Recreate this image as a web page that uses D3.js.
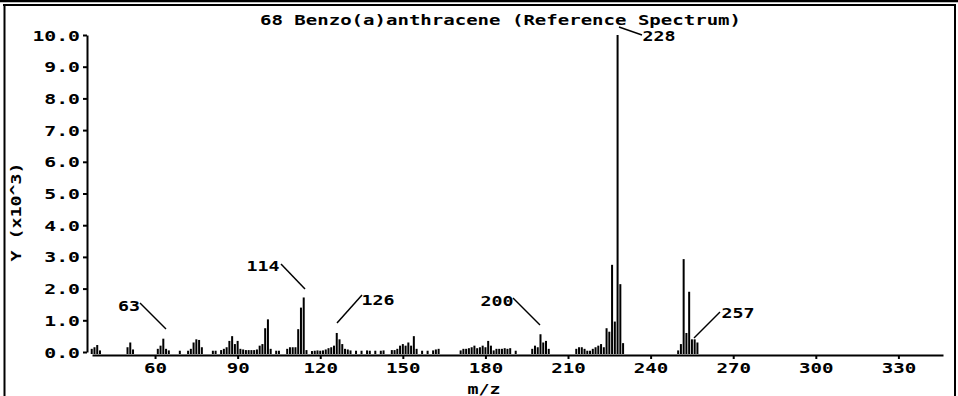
<!DOCTYPE html>
<html>
<head>
<meta charset="utf-8">
<script src="https://cdn.jsdelivr.net/npm/d3@7/dist/d3.min.js"></script>
<style>
  html, body { margin: 0; padding: 0; background: #fff; }
  svg { display: block; }
  text { font-family: "DejaVu Sans Mono", "Liberation Mono", monospace; fill: #000; font-weight: bold; }
</style>
</head>
<body>
<svg id="chart" width="958" height="396"></svg>
<script>
// ---- data ----
const title = "68 Benzo(a)anthracene (Reference Spectrum)";
const xTitle = "m/z";
const yTitle = "Y (x10^3)";
const xTicks = [60, 90, 120, 150, 180, 210, 240, 270, 300, 330];
const yTicks = [0, 1000, 2000, 3000, 4000, 5000, 6000, 7000, 8000, 9000, 10000];
const mz = [37, 38, 39, 40,
  50, 51, 52,
  61, 62, 63, 64, 65, 69,
  72, 73, 74, 75, 76, 77,
  81, 82, 84, 85, 86, 87, 88, 89, 90, 91, 92, 93, 94, 95, 96, 97,
  98, 99, 100, 101, 102, 104, 105,
  108, 109, 110, 111, 112, 113, 114, 115, 117, 118,
  119, 120, 121, 122, 123, 124, 125, 126, 127, 128, 129, 130, 131, 133, 135, 137, 138, 140, 142, 143,
  146, 147, 148, 149, 150, 151, 152, 153, 154, 155,
  157, 159, 161, 162, 163,
  171, 172, 173, 174, 175, 176, 177, 178, 179, 180, 181, 182, 183, 184, 185,
  186, 187, 188, 189, 191,
  197, 198, 199, 200, 201, 202, 203,
  213, 214, 215, 216, 217, 218, 219, 220, 221, 222, 223,
  224, 225, 226, 227, 228, 229, 230,
  250, 251, 252, 253, 254, 255, 256, 257];
const abundance = [100, 150, 220, 50,
  150, 300, 80,
  100, 200, 420, 100, 50, 40,
  40, 100, 300, 400, 380, 150,
  40, 40, 60, 100, 150, 350, 500, 250, 350, 100, 80, 60, 60, 60, 60, 80,
  200, 250, 750, 1030, 100, 40, 40,
  100, 150, 150, 150, 720, 1400, 1720, 60, 30, 40,
  50, 40, 50, 80, 120, 150, 200, 600, 400, 250, 100, 80, 50, 40, 40, 50, 40, 40, 40, 50,
  60, 60, 100, 200, 250, 200, 300, 200, 500, 100,
  40, 40, 50, 80, 100,
  50, 100, 100, 120, 150, 200, 120, 150, 200, 150, 350, 200, 50, 100, 100,
  100, 120, 100, 120, 40,
  100, 200, 150, 560, 300, 350, 100,
  100, 150, 150, 100, 40, 40, 100, 150, 200, 250, 150,
  750, 640, 2750, 960, 10000, 2140, 280,
  50, 250, 2930, 600, 1900, 400, 400, 300];
const labelMz = [63, 114, 126, 200, 228, 257];

// ---- layout (not data) ----
const labelLayout = {
  63:  { tx: 129, ty: 306, x1: 140, y1: 303, x2: 166, y2: 329 },
  114: { tx: 263, ty: 266, x1: 281, y1: 264, x2: 305, y2: 289 },
  126: { tx: 378, ty: 300, x1: 362, y1: 295, x2: 337, y2: 323 },
  200: { tx: 497, ty: 301, x1: 513, y1: 298, x2: 540, y2: 325 },
  228: { tx: 659, ty: 36,  x1: 642, y1: 35,  x2: 619, y2: 27 },
  257: { tx: 738, ty: 313, x1: 720, y1: 312, x2: 694, y2: 338 }
};

const svg = d3.select("#chart");

// frame
const frame = svg.append("g").attr("fill", "none").attr("stroke", "#000");
frame.append("line").attr("x1", 0).attr("x2", 958).attr("y1", 1).attr("y2", 1).attr("stroke-width", 2.5);
frame.append("line").attr("x1", 3).attr("x2", 956).attr("y1", 5).attr("y2", 5).attr("stroke-width", 2);
frame.append("line").attr("x1", 4.5).attr("x2", 4.5).attr("y1", 5).attr("y2", 396).attr("stroke-width", 2);
frame.append("line").attr("x1", 955).attr("x2", 955).attr("y1", 5).attr("y2", 396).attr("stroke-width", 2);

const x = d3.scaleLinear().domain([37.1, 346.2]).range([92, 943]);
const y = d3.scaleLinear().domain([0, 10000]).range([352, 35]);

function stretch(sel, perChar) {
  sel.each(function() {
    const t = d3.select(this);
    const s = t.text();
    t.attr("textLength", s.length * perChar).attr("lengthAdjust", "spacingAndGlyphs");
  });
}

// y axis
const yAxis = svg.append("g").attr("transform", "translate(87,0)")
  .call(d3.axisLeft(y).tickValues(yTicks).tickSize(4).tickSizeOuter(0).tickPadding(3)
    .tickFormat(d => (d / 1000).toFixed(1)));
yAxis.select(".domain").attr("stroke-width", 2);
yAxis.selectAll(".tick line").attr("stroke-width", 2);
yAxis.selectAll("text").attr("font-size", 14).attr("dy", "0.36em");
stretch(yAxis.selectAll("text"), 11.9);

// x axis
const xAxis = svg.append("g").attr("transform", "translate(0,355)")
  .call(d3.axisBottom(x).tickValues(xTicks).tickSize(4).tickSizeOuter(0).tickPadding(4));
xAxis.select(".domain").attr("stroke-width", 2);
xAxis.selectAll(".tick line").attr("stroke-width", 2);
xAxis.selectAll("text").attr("font-size", 14);
stretch(xAxis.selectAll("text"), 11.5);

// bars
svg.append("g").selectAll("rect").data(mz.map((m, i) => ({ m, v: abundance[i] })))
  .join("rect")
  .attr("x", d => x(d.m) - 1)
  .attr("width", 2)
  .attr("y", d => y(d.v))
  .attr("height", d => y(0) - y(d.v) + 2)
  .attr("fill", "#000");

// labels
const lab = svg.append("g");
labelMz.forEach(m => {
  const L = labelLayout[m];
  lab.append("line").attr("x1", L.x1).attr("y1", L.y1).attr("x2", L.x2).attr("y2", L.y2)
    .attr("stroke", "#000").attr("stroke-width", 1.5);
  const t = lab.append("text").attr("x", L.tx).attr("y", L.ty).attr("dy", "0.36em")
    .attr("text-anchor", "middle").attr("font-size", 14).text(String(m));
  stretch(t, 11);
});

// titles
const tt = svg.append("text").attr("x", 260).attr("y", 25).attr("text-anchor", "start")
  .attr("font-size", 14).text(title);
tt.attr("textLength", 481).attr("lengthAdjust", "spacingAndGlyphs");

const xt = svg.append("text").attr("x", 484).attr("y", 394).attr("text-anchor", "middle")
  .attr("font-size", 14).text(xTitle);
stretch(xt, 11);

const yt = svg.append("text").attr("transform", "translate(21,212) rotate(-90)")
  .attr("text-anchor", "middle").attr("font-size", 14).text(yTitle);
stretch(yt, 11);
</script>
</body>
</html>
